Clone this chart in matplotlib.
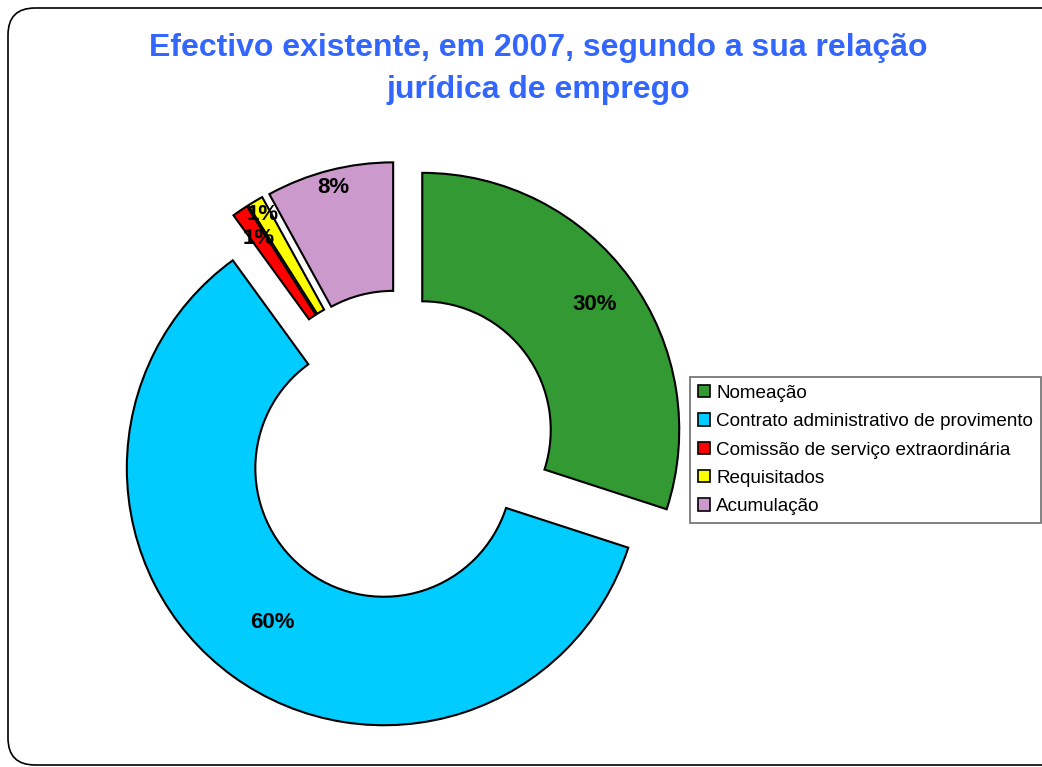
import numpy as np
import matplotlib.pyplot as plt
from matplotlib.patches import FancyBboxPatch

plt.rcParams['font.family'] = ['Liberation Sans', 'DejaVu Sans']

# Dados
categorias = ['Nomeação', 'Contrato administrativo de provimento',
              'Comissão de serviço extraordinária', 'Requisitados', 'Acumulação']
valores = [30, 60, 1, 1, 8]
cores = ['#339933', '#00CCFF', '#FF0000', '#FFFF00', '#CC99CC']
titulo = 'Efectivo existente, em 2007, segundo a sua relação\njurídica de emprego'

# distancia radial de cada rotulo (fraccao do raio)
dist_rotulo = [0.83, 0.74, 0.87, 0.94, 0.93]

fig = plt.figure(figsize=(10.42, 7.67), dpi=100)
ax = fig.add_axes([0, 0, 1, 1])
ax.axis('off')

# moldura arredondada
moldura = FancyBboxPatch((0.08, 0.02), 10.9, 7.57,
                         boxstyle='round,pad=0,rounding_size=0.27',
                         transform=fig.dpi_scale_trans, facecolor='none',
                         edgecolor='black', linewidth=1.2, zorder=5)
fig.patches.append(moldura)

wedges, textos, autotextos = ax.pie(
    valores, colors=cores, startangle=90, counterclock=False,
    explode=[0.107] * len(valores), radius=1.0,
    wedgeprops=dict(width=0.5, edgecolor='black', linewidth=1.5),
    autopct='%1.0f%%', pctdistance=0.85,
    textprops=dict(fontsize=16, fontweight='bold', color='black'))

# reposicionar rotulos
for w, t, d in zip(wedges, autotextos, dist_rotulo):
    ang = np.deg2rad((w.theta1 + w.theta2) / 2)
    cx, cy = w.center
    t.set_position((cx + d * np.cos(ang), cy + d * np.sin(ang)))

# escala: 1 unidade = 257 px, centro em (400, 446)
ax.set_aspect('auto')
ax.set_xlim(-400 / 257, (1042 - 400) / 257)
ax.set_ylim(-(767 - 446) / 257, 446 / 257)

fig.text(538 / 1042, 1 - 69 / 767, titulo, ha='center', va='center',
         fontsize=23, fontweight='bold', color='#3366FF', linespacing=1.55)

leg = ax.legend(wedges, categorias, loc='upper left',
                bbox_to_anchor=(690 / 1042, 1 - 377 / 767),
                bbox_transform=fig.transFigure, borderaxespad=0,
                fancybox=False, frameon=True, fontsize=13.6,
                handlelength=0.62, handleheight=0.62, handletextpad=0.35,
                labelspacing=0.6, borderpad=0.42)
leg.get_frame().set_edgecolor('#555555')
leg.get_frame().set_linewidth(1.3)
for h in leg.legend_handles:
    h.set_edgecolor('black')
    h.set_linewidth(1.2)

fig.savefig('out.png', dpi=100)
